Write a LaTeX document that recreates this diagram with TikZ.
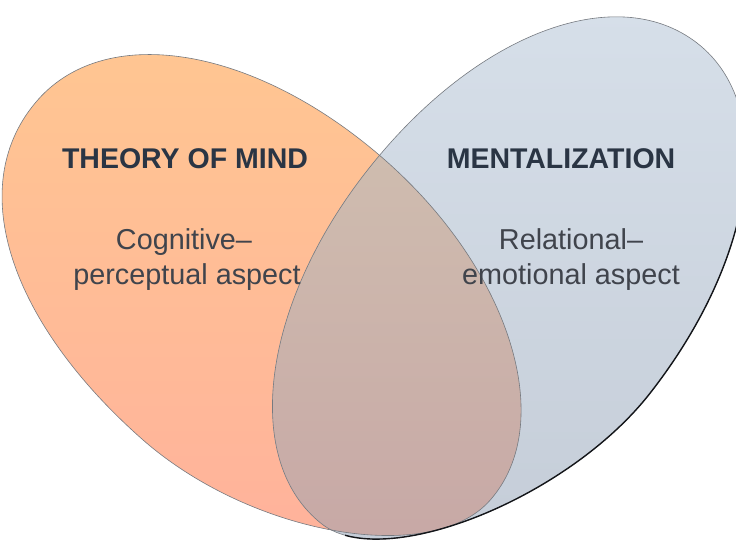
\documentclass[tikz,border=0pt]{standalone}
\usepackage{fontspec}
\setmainfont{Liberation Sans}
\usetikzlibrary{positioning}
\tikzset{
rim/.style={draw={rgb, 255:red, 118; green, 122; blue, 128 }, line width=0.6}, % thin grey outline
darkrim/.style={draw={rgb, 255:red, 20; green, 22; blue, 26 }, line width=1.4, line cap=round}, % dark lower edge
headtext/.style={font=\bfseries\fontsize{28.5}{34}\selectfont, text={rgb, 255:red, 42; green, 53; blue, 68 }},
bodytext/.style={font=\fontsize{28.8}{34}\selectfont, text={rgb, 255:red, 64; green, 68; blue, 76 }},
}
% outline of the two ovals, four curve pieces each
\newcommand{\tomoval}{(tomE) .. controls (tomES1) and (tomES2) .. (tomS) .. controls (tomSW1) and (tomSW2) .. (tomW) .. controls (tomWN1) and (tomWN2) .. (tomN) .. controls (tomNE1) and (tomNE2) .. (tomE) -- cycle}
\newcommand{\mentoval}{(mentE) .. controls (mentES1) and (mentES2) .. (mentS) .. controls (mentSW1) and (mentSW2) .. (mentW) .. controls (mentWN1) and (mentWN2) .. (mentN) .. controls (mentNE1) and (mentNE2) .. (mentE) -- cycle}

\begin{document}
\begin{tikzpicture}[x=1pt,y=1pt,yscale=-1,xscale=1]
		%set diagram left start at 0, and has height of 539
		\useasboundingbox (0,0) rectangle (736,539);
		
		% Points: oval (theory of mind)
		\begin{scope}[shift={(264,300)}, rotate=41.6]
		\coordinate (tomE) at (302,0);
		\coordinate (tomS) at (0,185);
		\coordinate (tomW) at (-302,0);
		\coordinate (tomN) at (0,-185);
		\coordinate (tomES1) at (302,89);
		\coordinate (tomES2) at (145,185);
		\coordinate (tomSW1) at (-181,185);
		\coordinate (tomSW2) at (-302,111);
		\coordinate (tomWN1) at (-302,-105);
		\coordinate (tomWN2) at (-172,-185);
		\coordinate (tomNE1) at (167,-185);
		\coordinate (tomNE2) at (302,-102);
		\end{scope}
		% Points: oval (mentalization)
		\begin{scope}[shift={(509.7,283.7)}, rotate=-52]
		\coordinate (mentE) at (305,0);
		\coordinate (mentS) at (0,178);
		\coordinate (mentW) at (-305,0);
		\coordinate (mentN) at (0,-182);
		\coordinate (mentES1) at (305,101);
		\coordinate (mentES2) at (174,178);
		\coordinate (mentSW1) at (-134,178);
		\coordinate (mentSW2) at (-305,78);
		\coordinate (mentWN1) at (-305,-102);
		\coordinate (mentWN2) at (-171,-182);
		\coordinate (mentNE1) at (174,-182);
		\coordinate (mentNE2) at (305,-104);
		\end{scope}
		
		% Shape: Oval (theory of mind)
		\shade [top color={rgb, 255:red, 255; green, 199; blue, 145 }, bottom color={rgb, 255:red, 255; green, 177; blue, 156 }] \tomoval ;
		% Shape: Oval (mentalization)
		\shade [top color={rgb, 255:red, 215; green, 224; blue, 234 }, bottom color={rgb, 255:red, 196; green, 204; blue, 215 }] \mentoval ;
		% Shape: Overlap
		\begin{scope}
		\clip \mentoval ;
		\shade [top color={rgb, 255:red, 209; green, 195; blue, 178 }, bottom color={rgb, 255:red, 199; green, 167; blue, 165 }] \tomoval ;
		\end{scope}
		
		% Outlines
		\draw [rim] \tomoval ;
		\draw [rim] \mentoval ;
		\begin{scope}
		\clip (345,150) rectangle (760,560);
		\draw [darkrim] (mentE) .. controls (mentES1) and (mentES2) .. (mentS) .. controls (mentSW1) and (mentSW2) .. (mentW) ;
		\end{scope}
		
		% Text Node
		\draw (185,168) node [headtext, anchor=base] (tomhead) {THEORY OF MIND};
		% Text Node
		\draw (184,249) node [bodytext, anchor=base] (tomline) {Cognitive–};
		% Text Node
		\draw (187,284) node [bodytext, anchor=base] (tomaspect) {perceptual aspect};
		% Text Node
		\draw (561,168) node [headtext, anchor=base] (menthead) {MENTALIZATION};
		% Text Node
		\draw (571,249) node [bodytext, anchor=base] (mentline) {Relational–};
		% Text Node
		\draw (571,284) node [bodytext, anchor=base] (mentaspect) {emotional aspect};
		
		\end{tikzpicture}
\end{document}
